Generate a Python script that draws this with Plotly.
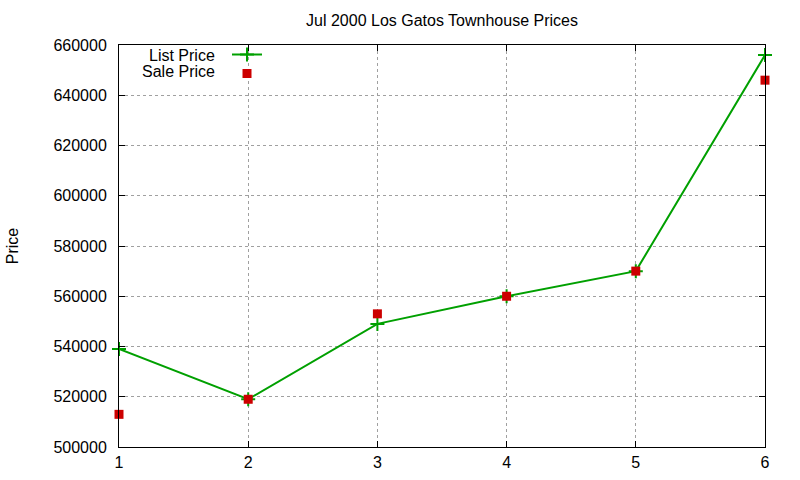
import plotly.graph_objects as go

x_vals = [1, 2, 3, 4, 5, 6]
list_price = [539000, 519000, 549000, 560000, 570000, 656000]
sale_price = [513000, 519000, 553000, 560000, 570000, 646000]
legend_labels = ["List Price", "Sale Price"]

GREEN = "#00a000"
RED = "#cc0000"
FONT = "Liberation Sans, Arial, sans-serif"

fig = go.Figure()
fig.add_trace(go.Scatter(
    x=x_vals, y=list_price, mode="lines+markers", name="",
    line=dict(color=GREEN, width=2),
    marker=dict(symbol="cross-thin", size=10, line=dict(color=GREEN, width=2), color=GREEN),
    hovertext=legend_labels[0], cliponaxis=False,
))
fig.add_trace(go.Scatter(
    x=x_vals, y=sale_price, mode="markers", name="",
    marker=dict(symbol="square", size=9, color=RED),
    hovertext=legend_labels[1], cliponaxis=False,
))

axis_common = dict(
    showline=True, linecolor="black", linewidth=1, mirror="allticks",
    ticks="inside", ticklen=6, tickcolor="black", tickwidth=1,
    showgrid=True, gridcolor="#a0a0a0", griddash="dot", gridwidth=1,
    zeroline=False, automargin=False,
    tickfont=dict(family=FONT, size=16, color="black"),
)

fig.update_xaxes(range=[1, 6], dtick=1, tick0=1, ticklabelstandoff=1, **axis_common)
fig.update_yaxes(range=[500000, 660000], dtick=20000, tickformat="d",
                 ticklabelstandoff=8,
                 title=dict(text="Price", font=dict(family=FONT, size=16, color="black"), standoff=30),
                 **axis_common)

fig.update_layout(
    width=800, height=480,
    margin=dict(l=119, r=35, t=45, b=33),
    paper_bgcolor="white", plot_bgcolor="white",
    title=dict(text="Jul 2000 Los Gatos Townhouse Prices", x=442/800, xanchor="center",
               y=1 - 20/480, yanchor="middle",
               font=dict(family=FONT, size=16, color="black")),
    showlegend=True,
    legend=dict(x=(227 - 119) / 646, xanchor="left", y=1 + 5/402, yanchor="top",
                bgcolor="rgba(0,0,0,0)", borderwidth=0, itemwidth=30,
                tracegroupgap=0, font=dict(family=FONT, size=6, color="black")),
    annotations=[
        dict(text=legend_labels[0], xref="paper", yref="paper", x=(217 - 119) / 646, y=(447 - 55) / 402,
             xanchor="right", yanchor="middle", showarrow=False,
             font=dict(family=FONT, size=16, color="black")),
        dict(text=legend_labels[1], xref="paper", yref="paper", x=(217 - 119) / 646, y=(447 - 72) / 402,
             xanchor="right", yanchor="middle", showarrow=False,
             font=dict(family=FONT, size=16, color="black")),
    ],
)

fig.write_html("out.html", config={"displayModeBar": False},
               post_script="document.body.style.margin='0';document.body.style.overflow='hidden';")
